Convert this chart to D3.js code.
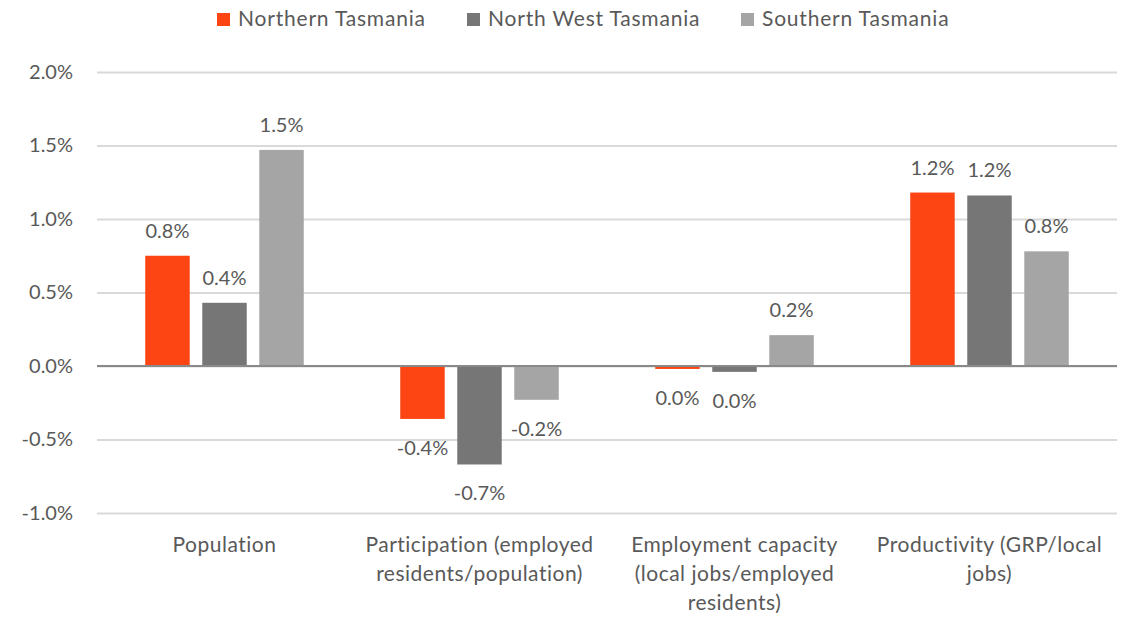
<!DOCTYPE html>
<html>
<head>
<meta charset="utf-8">
<script src="https://cdn.jsdelivr.net/npm/d3@7"></script>
<style>
  html, body { margin: 0; padding: 0; background: #fff; }
  svg text { font-family: Lato, "Liberation Sans", sans-serif; fill: #595959; }
</style>
</head>
<body>
<svg id="chart" width="1132" height="617"></svg>
<script>
// Annual growth contribution (%), by region and component
const categories = [
  "Population",
  "Participation (employed residents/population)",
  "Employment capacity (local jobs/employed residents)",
  "Productivity (GRP/local jobs)"
];
const categoryLines = [
  ["Population"],
  ["Participation (employed", "residents/population)"],
  ["Employment capacity", "(local jobs/employed", "residents)"],
  ["Productivity (GRP/local", "jobs)"]
];
const seriesNames = ["Northern Tasmania", "North West Tasmania", "Southern Tasmania"];
const northern  = [0.75, -0.36, -0.02, 1.18];
const northWest = [0.43, -0.67, -0.04, 1.16];
const southern  = [1.47, -0.23,  0.21, 0.78];
const yTicks = [-1.0, -0.5, 0.0, 0.5, 1.0, 1.5, 2.0];
const colors = ["#FC4512", "#767676", "#A5A5A5"];

const seriesValues = [northern, northWest, southern];
const rows = categories.map((c, i) => ({
  category: c,
  lines: categoryLines[i],
  values: seriesNames.map((s, j) => ({ series: s, value: seriesValues[j][i] }))
}));

const fmt = d3.formatLocale({ decimal: ".", thousands: ",", grouping: [3], currency: ["$", ""], minus: "-" }).format(".1f");
const pct = v => fmt(v) + "%";

const svg = d3.select("#chart");
const plotLeft = 97, plotRight = 1117, plotTop = 72, plotBottom = 513;

const x0 = d3.scaleBand().domain(categories).range([plotLeft, plotRight]).paddingInner(0).paddingOuter(0);
const x1 = d3.scaleBand().domain(seriesNames).range([0, x0.bandwidth()]).paddingInner(0.22).paddingOuter(0.846);
const y = d3.scaleLinear().domain([-1.0, 2.0]).range([plotBottom, plotTop]);
const color = d3.scaleOrdinal().domain(seriesNames).range(colors);

// Gridlines and value axis
const yAxis = d3.axisLeft(y).tickValues(yTicks).tickSize(-(plotRight - plotLeft)).tickPadding(24).tickFormat(pct);
const gy = svg.append("g").attr("transform", `translate(${plotLeft},0)`).call(yAxis);
gy.select(".domain").remove();
gy.selectAll(".tick line").attr("stroke", "#D9D9D9").attr("stroke-width", 2);
gy.selectAll(".tick text").style("font-size", "20px").attr("fill", "#595959");

// Bars
const groups = svg.append("g").selectAll("g").data(rows).join("g")
  .attr("transform", d => `translate(${x0(d.category)},0)`);

groups.selectAll("rect").data(d => d.values).join("rect")
  .attr("x", d => x1(d.series))
  .attr("width", x1.bandwidth())
  .attr("y", d => y(Math.max(0, d.value)))
  .attr("height", d => Math.abs(y(d.value) - y(0)))
  .attr("fill", d => color(d.series));

// Value labels at the outer end of each bar
groups.selectAll("text.val").data(d => d.values).join("text")
  .attr("class", "val")
  .attr("x", d => x1(d.series) + x1.bandwidth() / 2)
  .attr("y", d => d.value >= 0 ? y(d.value) - 18 : y(d.value) + 36)
  .attr("text-anchor", "middle")
  .style("font-size", "20px")
  .text(d => pct(d.value));

// Zero baseline
svg.append("line")
  .attr("x1", plotLeft).attr("x2", plotRight)
  .attr("y1", y(0)).attr("y2", y(0))
  .attr("stroke", "#898989").attr("stroke-width", 2);

// Category labels
const catLabels = svg.append("g").selectAll("text").data(rows).join("text")
  .attr("x", d => x0(d.category) + x0.bandwidth() / 2)
  .attr("y", 552)
  .attr("text-anchor", "middle")
  .style("font-size", "21px")
  .style("letter-spacing", "0.5px");
catLabels.selectAll("tspan").data(d => d.lines).join("tspan")
  .attr("x", function () { return this.parentNode.getAttribute("x"); })
  .attr("dy", (d, i) => i === 0 ? 0 : 29)
  .text(d => d);

// Legend
const legendX = [217, 467, 741];
const legend = svg.append("g").selectAll("g").data(seriesNames).join("g")
  .attr("transform", (d, i) => `translate(${legendX[i]},13)`);
legend.append("rect").attr("width", 13).attr("height", 13).attr("fill", d => color(d));
legend.append("text").attr("x", 21).attr("y", 13)
  .style("font-size", "21px").style("letter-spacing", "0.8px")
  .text(d => d);
</script>
</body>
</html>
